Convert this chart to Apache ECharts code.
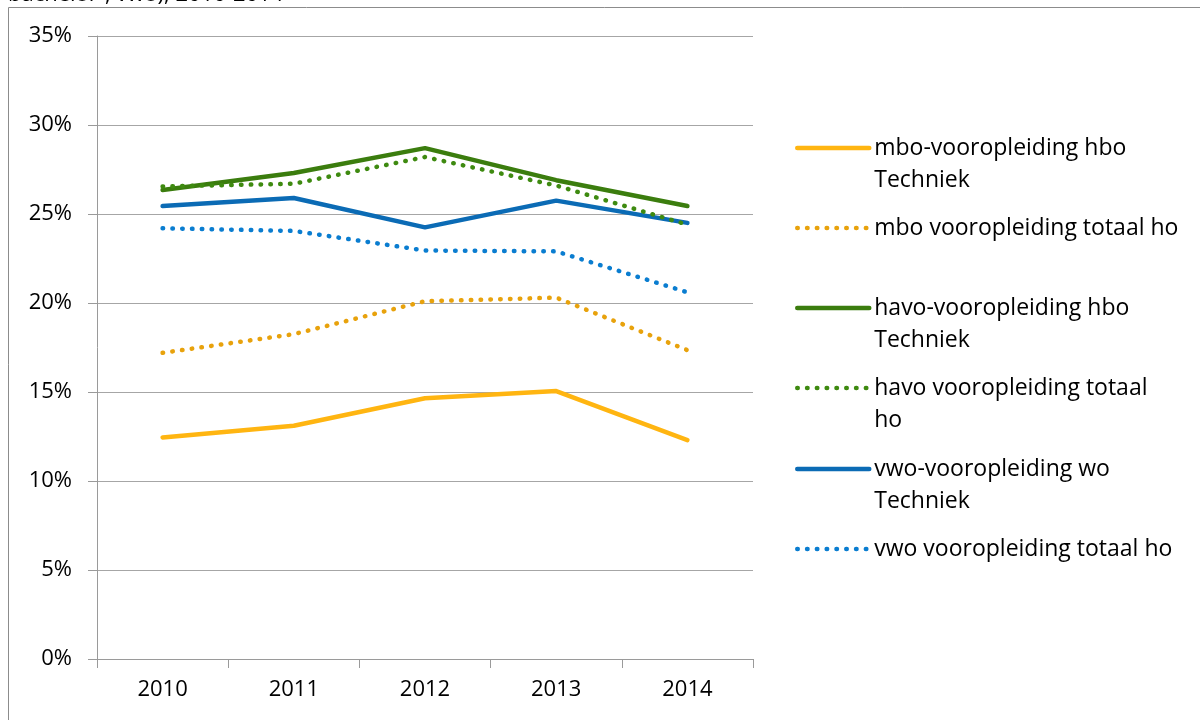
<!DOCTYPE html>
<html>
<head>
<meta charset="utf-8">
<script src="https://cdn.jsdelivr.net/npm/echarts@6/dist/echarts.min.js"></script>
<style>
  html, body { margin: 0; padding: 0; background: #fff; }
  #chart { width: 1200px; height: 720px; }
</style>
</head>
<body>
<div id="chart"></div>
<script>
const years = ["2010", "2011", "2012", "2013", "2014"];
const mboTechniek = [12.45, 13.1, 14.65, 15.05, 12.3];
const mboTotaal = [17.2, 18.25, 20.1, 20.3, 17.35];
const havoTechniek = [26.35, 27.3, 28.7, 26.9, 25.45];
const havoTotaal = [26.55, 26.7, 28.2, 26.6, 24.4];
const vwoTechniek = [25.45, 25.9, 24.25, 25.75, 24.5];
const vwoTotaal = [24.2, 24.05, 22.95, 22.9, 20.6];
const yTicks = [0, 5, 10, 15, 20, 25, 30, 35];

const font = "Open Sans";
const dotted = [0.5, 9.3];

const seriesDefs = [
  { name: "mbo-vooropleiding hbo\nTechniek", data: mboTechniek, color: "#FFB511", dots: false },
  { name: "mbo vooropleiding totaal ho", data: mboTotaal, color: "#E8A20C", dots: true },
  { name: "havo-vooropleiding hbo\nTechniek", data: havoTechniek, color: "#3B7D0E", dots: false },
  { name: "havo vooropleiding totaal\nho", data: havoTotaal, color: "#3E8A10", dots: true },
  { name: "vwo-vooropleiding wo\nTechniek", data: vwoTechniek, color: "#0B6BB5", dots: false },
  { name: "vwo vooropleiding totaal ho", data: vwoTotaal, color: "#0A7DD0", dots: true }
];

// legend icon centres
const legendY = [148, 228, 308, 388, 469, 549];

const chart = echarts.init(document.getElementById("chart"), null, { renderer: "canvas" });

const legends = seriesDefs.map((s, i) => {
  const twoLines = s.name.indexOf("\n") >= 0;
  return {
    data: [s.name],
    orient: "vertical",
    left: 795,
    top: legendY[i] - (twoLines ? 48 : 16),
    padding: 0,
    itemWidth: 72,
    itemHeight: 14,
    itemStyle: { opacity: 0 },
    lineStyle: { width: 4.5, cap: "round" },
    // blank first line so the first text line sits level with the icon
    formatter: twoLines ? n => " \n" + n : "{name}",
    textStyle: {
      fontFamily: font,
      fontSize: 23,
      color: "#000",
      lineHeight: 32
    }
  };
});

chart.setOption({
  animation: false,
  backgroundColor: "#fff",
  graphic: [
    {
      type: "rect",
      shape: { x: 8.5, y: 7.5, width: 1300, height: 800 },
      style: { fill: "none", stroke: "#8c8c8c", lineWidth: 1 },
      z: -1
    },
    {
      type: "text",
      left: 8,
      top: -16,
      style: { text: "bachelor-, vwo), 2010-2014", font: "22px " + font, fill: "#000" }
    }
  ],
  legend: legends,
  grid: { left: 97, right: 447, top: 36, bottom: 61 },
  xAxis: {
    type: "category",
    data: years,
    boundaryGap: true,
    axisLine: { lineStyle: { color: "#9a9a9a", width: 1 } },
    axisTick: { show: true, length: 9, lineStyle: { color: "#9a9a9a" } },
    axisLabel: { margin: 20, fontFamily: font, fontSize: 22, color: "#000" }
  },
  yAxis: {
    type: "value",
    min: 0,
    max: 35,
    interval: 5,
    axisLine: { show: true, lineStyle: { color: "#9a9a9a", width: 1 } },
    axisTick: { show: true, length: 9, lineStyle: { color: "#9a9a9a" } },
    splitLine: { lineStyle: { color: "#a6a6a6", width: 1 } },
    axisLabel: {
      margin: 25,
      fontFamily: font,
      fontSize: 22,
      color: "#000",
      formatter: v => (yTicks.indexOf(v) >= 0 ? v + "%" : "")
    }
  },
  series: seriesDefs.map(s => ({
    name: s.name,
    type: "line",
    data: s.data,
    symbol: "none",
    color: s.color,
    lineStyle: {
      color: s.color,
      width: 4.5,
      type: s.dots ? dotted : "solid",
      cap: "round",
      join: "round"
    },
    z: s.dots ? 3 : 2
  }))
});
</script>
</body>
</html>
